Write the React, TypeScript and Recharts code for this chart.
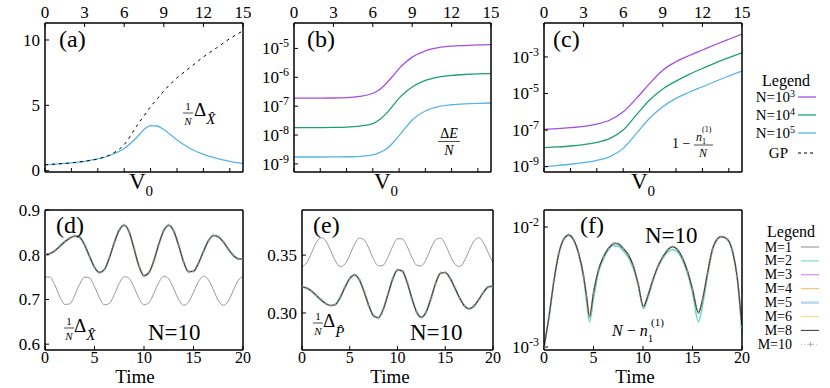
import React from "react";
import { LineChart, Line, XAxis, YAxis } from "recharts";

const FONT = "Liberation Serif, DejaVu Serif, serif";

// ---------- (a) 1/N Delta_X vs V0 ----------
const v0A = [0, 1, 2, 3, 4, 5, 6, 7, 7.5, 8, 8.5, 9, 10, 11, 12, 13, 14, 15];
const dxN1e5 = [0.45, 0.52, 0.6, 0.72, 0.9, 1.2, 1.7, 2.6, 3.15, 3.45, 3.42, 3.15, 2.35, 1.7, 1.25, 0.95, 0.72, 0.55];
const dxGP = [0.45, 0.52, 0.6, 0.72, 0.9, 1.25, 2.0, 3.5, 4.2, 4.9, 5.5, 6.1, 7.1, 7.9, 8.7, 9.4, 10.1, 10.7];

// ---------- (b) Delta E / N vs V0 ----------
const v0B = [0, 1, 2, 3, 4, 5, 6, 6.5, 7, 7.5, 8, 8.5, 9, 10, 11, 12, 13, 14, 15];
const deN1e3 = [1.91e-7, 1.91e-7, 1.91e-7, 1.92e-7, 1.97e-7, 2.18e-7, 2.8e-7, 3.7e-7, 6.0e-7, 1.07e-6, 2.0e-6, 3.3e-6, 5.0e-6, 8.3e-6, 1.07e-5, 1.2e-5, 1.26e-5, 1.32e-5, 1.35e-5];
const deN1e4 = [1.82e-8, 1.82e-8, 1.82e-8, 1.83e-8, 1.88e-8, 2.05e-8, 2.5e-8, 3.4e-8, 5.4e-8, 1.0e-7, 1.9e-7, 3.1e-7, 4.6e-7, 7.8e-7, 1.02e-6, 1.16e-6, 1.25e-6, 1.31e-6, 1.35e-6];
const deN1e5 = [1.74e-9, 1.74e-9, 1.74e-9, 1.75e-9, 1.77e-9, 1.84e-9, 2.05e-9, 2.45e-9, 3.2e-9, 5.2e-9, 9.5e-9, 1.8e-8, 3.3e-8, 6.8e-8, 9.6e-8, 1.12e-7, 1.21e-7, 1.26e-7, 1.29e-7];

// ---------- (c) 1 - n1/N vs V0 ----------
const v0C = [0, 1, 2, 3, 4, 5, 6, 7, 8, 9, 10, 11, 12, 13, 14, 15];
const depN1e3 = [1.1e-7, 1.2e-7, 1.35e-7, 1.58e-7, 2.14e-7, 3.55e-7, 1.0e-6, 5.4e-6, 3.5e-5, 1.9e-4, 5.5e-4, 1.2e-3, 2.4e-3, 4.8e-3, 9.3e-3, 1.78e-2];
const depN1e4 = [1.1e-8, 1.2e-8, 1.35e-8, 1.62e-8, 2.14e-8, 3.55e-8, 1.02e-7, 6.8e-7, 4.4e-6, 1.78e-5, 4.8e-5, 1.12e-4, 2.34e-4, 4.8e-4, 9.1e-4, 1.7e-3];
const depN1e5 = [1.0e-9, 1.15e-9, 1.35e-9, 1.66e-9, 2.2e-9, 3.55e-9, 1.0e-8, 6.6e-8, 4.4e-7, 1.9e-6, 5.4e-6, 1.17e-5, 2.34e-5, 4.7e-5, 9.1e-5, 1.7e-4];

// ---------- (d), (e) time evolution, N=10 ----------
const time = [0, 0.5, 1, 1.5, 2, 2.5, 3, 3.5, 4, 4.5, 5, 5.5, 6, 6.5, 7, 7.5, 8, 8.5, 9, 9.5, 10, 10.5, 11, 11.5, 12, 12.5, 13, 13.5, 14, 14.5, 15, 15.5, 16, 16.5, 17, 17.5, 18, 18.5, 19, 19.5, 20];
const dxM1 = [0.75, 0.75, 0.732, 0.706, 0.689, 0.69, 0.709, 0.734, 0.75, 0.748, 0.729, 0.704, 0.688, 0.691, 0.711, 0.736, 0.751, 0.747, 0.727, 0.702, 0.688, 0.693, 0.714, 0.738, 0.752, 0.746, 0.724, 0.7, 0.687, 0.694, 0.716, 0.74, 0.752, 0.744, 0.722, 0.698, 0.687, 0.696, 0.719, 0.742, 0.752];
const dxConv = [0.8, 0.8025, 0.809, 0.819, 0.829, 0.837, 0.842, 0.839, 0.822, 0.796, 0.772, 0.76, 0.767, 0.793, 0.827, 0.855, 0.866, 0.851, 0.813, 0.774, 0.753, 0.76, 0.787, 0.824, 0.854, 0.866, 0.853, 0.821, 0.784, 0.762, 0.763, 0.781, 0.807, 0.831, 0.843, 0.84, 0.829, 0.813, 0.799, 0.791, 0.79];
const dpM1 = [0.34, 0.3435, 0.352, 0.3608, 0.365, 0.3621, 0.3539, 0.345, 0.3401, 0.3423, 0.3501, 0.3593, 0.3647, 0.3633, 0.3558, 0.3465, 0.3406, 0.3413, 0.3483, 0.3576, 0.3641, 0.3641, 0.3576, 0.3483, 0.3413, 0.3406, 0.3465, 0.3558, 0.3633, 0.3647, 0.3593, 0.3501, 0.3423, 0.3401, 0.3449, 0.3539, 0.3621, 0.365, 0.3608, 0.352, 0.3435];
const dpConv = [0.3225, 0.3215, 0.3189, 0.3151, 0.3112, 0.3081, 0.3064, 0.3073, 0.3134, 0.3222, 0.3298, 0.3328, 0.3288, 0.3185, 0.3063, 0.2975, 0.2959, 0.303, 0.316, 0.3294, 0.3372, 0.3363, 0.3267, 0.3128, 0.3009, 0.2962, 0.3008, 0.3125, 0.3258, 0.3344, 0.335, 0.3301, 0.3219, 0.313, 0.3062, 0.3037, 0.3059, 0.3115, 0.3179, 0.3224, 0.3231];

// ---------- (f) N - n1 ----------
const timeF = [0, 0.5, 1, 1.5, 2, 2.5, 3, 3.5, 4, 4.3, 4.6, 5, 5.5, 6, 6.5, 7, 7.2, 7.5, 8, 8.5, 9, 9.5, 10.05, 10.5, 11, 11.5, 12, 12.5, 13, 13.5, 14, 14.5, 15, 15.6, 16, 16.5, 17, 17.5, 17.9, 18.5, 19, 19.5, 20];
const depConv = [0.001, 0.00178, 0.00355, 0.00603, 0.00794, 0.00857, 0.0078, 0.00603, 0.00389, 0.00263, 0.00179, 0.00282, 0.00437, 0.00562, 0.00661, 0.00724, 0.00731, 0.00724, 0.00661, 0.00589, 0.00479, 0.00339, 0.00217, 0.00269, 0.00363, 0.00468, 0.00562, 0.00646, 0.00686, 0.00646, 0.0055, 0.00427, 0.00302, 0.00193, 0.00245, 0.00407, 0.00646, 0.00794, 0.00832, 0.00794, 0.00646, 0.00389, 0.00148];
const depM2 = [0.001, 0.00178, 0.00355, 0.00603, 0.00794, 0.00857, 0.0078, 0.00589, 0.00372, 0.0024, 0.00162, 0.00251, 0.00417, 0.00537, 0.00646, 0.007, 0.00695, 0.00692, 0.00631, 0.00562, 0.00457, 0.00331, 0.00209, 0.00257, 0.00355, 0.00457, 0.0055, 0.00617, 0.00646, 0.00617, 0.00525, 0.00407, 0.00282, 0.00162, 0.00219, 0.0038, 0.00631, 0.00794, 0.00832, 0.00794, 0.00646, 0.00389, 0.00126];

const tableA = v0A.map((x, i) => ({ x, n5: dxN1e5[i], gp: dxGP[i] }));
const tableB = v0B.map((x, i) => ({ x, n3: deN1e3[i], n4: deN1e4[i], n5: deN1e5[i] }));
const tableC = v0C.map((x, i) => ({ x, n3: depN1e3[i], n4: depN1e4[i], n5: depN1e5[i] }));
const tableD = time.map((x, i) => ({ x, m1: dxM1[i], conv: dxConv[i] }));
const tableE = time.map((x, i) => ({ x, m1: dpM1[i], conv: dpConv[i] }));
const tableF = timeF.map((x, i) => ({ x, m2: depM2[i], conv: depConv[i] }));

const C3 = "#a44ee0";
const C4 = "#1f9e77";
const C5 = "#56b4e9";
const M_COLORS = { m1: "#8c8c8c", m2: "#5fd9c4", m3: "#cc77ee", m4: "#f5b95a", m5: "#b8d8ee", m6: "#f0e080", m8: "#333333", m10: "#a0a0a0" };

const PAD = { l: 52, r: 8, t: 22, b: 26 };
const AX = { stroke: "#000", strokeWidth: 1.5 };
const TL = { stroke: "#000", strokeWidth: 1 };

const boxA = { x: 45, y: 23, w: 198, h: 149 };
const boxB = { x: 294, y: 23, w: 197, h: 149 };
const boxC = { x: 544, y: 23, w: 198, h: 149 };
const boxD = { x: 45, y: 210, w: 198, h: 140 };
const boxE = { x: 302, y: 210, w: 191, h: 140 };
const boxF = { x: 544, y: 210, w: 198, h: 140 };

const txtStyle = { fontFamily: FONT };

const topTick = (p: any) => (
  <text x={p.x} y={p.y} textAnchor="middle" fontSize={17} style={txtStyle} fill="#000">{p.payload.value}</text>
);
const bottomTick = (p: any) => (
  <text x={p.x} y={p.y} dy="0.7em" textAnchor="middle" fontSize={16} style={txtStyle} fill="#000">{p.payload.value}</text>
);
const leftNum = (digits: number) => (p: any) => (
  <text x={p.x} y={p.y} dy="0.34em" textAnchor="end" fontSize={17} style={txtStyle} fill="#000">
    {Number(p.payload.value).toFixed(digits)}
  </text>
);
const leftExp = (p: any) => (
  <text x={p.x} y={p.y} dy="0.34em" textAnchor="end" fontSize={17} style={txtStyle} fill="#000">
    <tspan>10</tspan>
    <tspan dy={-7} fontSize={12}>{Math.round(Math.log10(p.payload.value))}</tspan>
  </text>
);
const noTick = () => <g />;

const plus = (p: any) => {
  if (p.cx == null || p.cy == null) return <g key={p.index} />;
  return <path key={p.index} d={`M${p.cx - 1.8},${p.cy}h3.6M${p.cx},${p.cy - 1.8}v3.6`} stroke={M_COLORS.m10} strokeWidth={0.6} fill="none" />;
};

function Panel({ box, data, children }: any) {
  return (
    <div style={{ position: "absolute", left: box.x - PAD.l, top: box.y - PAD.t }}>
      <LineChart width={box.w + PAD.l + PAD.r} height={box.h + PAD.t + PAD.b} data={data} margin={{ top: 0, right: 0, bottom: 0, left: 0 }}>
        {children}
      </LineChart>
    </div>
  );
}

// axes of the upper row: V0 labelled on top, bare ticks every 2 at the bottom
function upperAxes(yDomain: number[], yTicks: number[], log: boolean, yTick: any) {
  return [
    <XAxis key="xt" xAxisId="t" orientation="top" type="number" dataKey="x" domain={[0, 15]} ticks={[0, 3, 6, 9, 12, 15]} interval={0}
      allowDataOverflow height={PAD.t} axisLine={AX} tickLine={TL} tickSize={-4} tickMargin={9} tick={topTick} />,
    <XAxis key="xb" xAxisId="b" orientation="bottom" type="number" dataKey="x" domain={[0, 15]} ticks={[0, 2, 4, 6, 8, 10, 12, 14]} interval={0}
      allowDataOverflow height={PAD.b} axisLine={AX} tickLine={TL} tickSize={-4} tickMargin={8} tick={noTick} />,
    <YAxis key="yl" yAxisId="l" type="number" scale={log ? "log" : "auto"} domain={yDomain} ticks={yTicks} interval={0}
      allowDataOverflow width={PAD.l} axisLine={AX} tickLine={TL} tickSize={-4} tickMargin={9} tick={yTick} />,
    <YAxis key="yr" yAxisId="r" orientation="right" type="number" domain={[0, 1]} width={PAD.r} axisLine={AX} tickLine={false} tick={false} />,
  ];
}

// axes of the lower row: Time labelled at the bottom
function lowerAxes(yDomain: number[], yTicks: number[], log: boolean, yTick: any) {
  return [
    <XAxis key="xt" xAxisId="t" orientation="top" type="number" dataKey="x" domain={[0, 20]} height={PAD.t} axisLine={AX} tickLine={false} tick={false} />,
    <XAxis key="xb" xAxisId="b" orientation="bottom" type="number" dataKey="x" domain={[0, 20]} ticks={[0, 5, 10, 15, 20]} interval={0}
      allowDataOverflow height={PAD.b} axisLine={AX} tickLine={TL} tickSize={-4} tickMargin={6} tick={bottomTick} />,
    <YAxis key="yl" yAxisId="l" type="number" scale={log ? "log" : "auto"} domain={yDomain} ticks={yTicks} interval={0}
      allowDataOverflow width={PAD.l} axisLine={AX} tickLine={TL} tickSize={-4} tickMargin={9} tick={yTick} />,
    <YAxis key="yr" yAxisId="r" orientation="right" type="number" domain={[0, 1]} width={PAD.r} axisLine={AX} tickLine={false} tick={false} />,
  ];
}

function series(xId: string, key: string, color: string, width = 1.3, extra: any = {}) {
  return (
    <Line key={key + color + width} xAxisId={xId} yAxisId="l" type="monotone" dataKey={key} stroke={color} strokeWidth={width}
      dot={false} activeDot={false} isAnimationActive={false} {...extra} />
  );
}

// the M = 2 ... 10 curves lie on top of each other
function converged(keyM2: string, keyRest: string) {
  return [
    series("b", keyRest, M_COLORS.m5, 2),
    series("b", keyM2, M_COLORS.m2, 1.4),
    series("b", keyRest, M_COLORS.m3, 1),
    series("b", keyRest, M_COLORS.m4, 1),
    series("b", keyRest, M_COLORS.m6, 1),
    series("b", keyRest, M_COLORS.m8, 1.1),
    series("b", keyRest, M_COLORS.m10, 0.5, { strokeDasharray: "1 2", dot: plus }),
  ];
}

const Txt = (props: any) => <text fill="#000" style={txtStyle} {...props} />;

function Frac({ cx, yTop, yBar, yBot, w, top, bot, size = 12 }: any) {
  return (
    <g>
      <Txt x={cx} y={yTop} fontSize={size} textAnchor="middle">{top}</Txt>
      <line x1={cx - w / 2} x2={cx + w / 2} y1={yBar} y2={yBar} stroke="#000" strokeWidth={0.7} />
      <Txt x={cx} y={yBot} fontSize={size} textAnchor="middle" fontStyle="italic">{bot}</Txt>
    </g>
  );
}

function Overlay() {
  const topLegend = [
    { label: "3", color: C3, y: 97 },
    { label: "4", color: C4, y: 115 },
    { label: "5", color: C5, y: 133 },
  ];
  const mLegend = [
    { label: "M=1", color: M_COLORS.m1, w: 1 },
    { label: "M=2", color: M_COLORS.m2, w: 1 },
    { label: "M=3", color: M_COLORS.m3, w: 1 },
    { label: "M=4", color: M_COLORS.m4, w: 1 },
    { label: "M=5", color: M_COLORS.m5, w: 2.5 },
    { label: "M=6", color: M_COLORS.m6, w: 1 },
    { label: "M=8", color: M_COLORS.m8, w: 1 },
    { label: "M=10", color: M_COLORS.m10, w: 0.7 },
  ];
  return (
    <svg width={830} height={388} style={{ position: "absolute", left: 0, top: 0, pointerEvents: "none" }}>
      {/* panel letters */}
      <Txt x={59} y={47} fontSize={24}>(a)</Txt>
      <Txt x={307} y={47} fontSize={24}>(b)</Txt>
      <Txt x={553} y={47} fontSize={24}>(c)</Txt>
      <Txt x={56} y={233} fontSize={24}>(d)</Txt>
      <Txt x={313} y={233} fontSize={24}>(e)</Txt>
      <Txt x={580} y={233} fontSize={24}>(f)</Txt>

      {/* axis titles */}
      {[141, 386, 643].map((cx) => (
        <Txt key={cx} x={cx} y={189} fontSize={23} textAnchor="middle">
          <tspan>V</tspan>
          <tspan dy={7} fontSize={15}>0</tspan>
        </Txt>
      ))}
      {[135, 390, 635].map((cx) => (
        <Txt key={cx} x={cx} y={383} fontSize={19} textAnchor="middle">Time</Txt>
      ))}

      {/* (a) */}
      <Frac cx={188} yTop={110} yBar={113} yBot={125} w={10} top="1" bot="N" size={11} />
      <Txt x={194} y={116} fontSize={19}>
        <tspan>Δ</tspan>
        <tspan dy={8} fontSize={15} fontStyle="italic">X̂</tspan>
      </Txt>

      {/* (b) */}
      <Frac cx={449} yTop={138} yBar={141.5} yBot={155} w={22} top={<><tspan>Δ</tspan><tspan fontStyle="italic">E</tspan></>} bot="N" size={14} />

      {/* (c) */}
      <Txt x={672} y={148} fontSize={14}>1 −</Txt>
      <Txt x={696} y={141} fontSize={12}>
        <tspan fontStyle="italic">n</tspan>
        <tspan dy={3} fontSize={8}>1</tspan>
        <tspan x={702} dy={-12} fontSize={8}>(1)</tspan>
      </Txt>
      <line x1={694} x2={713} y1={145} y2={145} stroke="#000" strokeWidth={0.7} />
      <Txt x={703} y={157} fontSize={12} fontStyle="italic" textAnchor="middle">N</Txt>

      {/* (d) */}
      <Frac cx={69} yTop={325} yBar={328} yBot={340} w={10} top="1" bot="N" size={11} />
      <Txt x={74} y={332} fontSize={19}>
        <tspan>Δ</tspan>
        <tspan dy={8} fontSize={15} fontStyle="italic">X̂</tspan>
      </Txt>
      <Txt x={148} y={340} fontSize={23}>N=10</Txt>

      {/* (e) */}
      <Frac cx={318} yTop={320} yBar={323} yBot={335} w={10} top="1" bot="N" size={11} />
      <Txt x={323} y={327} fontSize={19}>
        <tspan>Δ</tspan>
        <tspan dy={10} fontSize={15} fontStyle="italic">P̂</tspan>
      </Txt>
      <Txt x={410} y={340} fontSize={23}>N=10</Txt>

      {/* (f) */}
      <Txt x={645} y={243} fontSize={23}>N=10</Txt>
      <Txt x={612} y={336} fontSize={16}>
        <tspan fontStyle="italic">N</tspan>
        <tspan> − </tspan>
        <tspan fontStyle="italic">n</tspan>
        <tspan dy={6} fontSize={11}>1</tspan>
        <tspan x={651} dy={-16} fontSize={11}>(1)</tspan>
      </Txt>

      {/* legend, upper row */}
      <Txt x={786} y={86} fontSize={16} textAnchor="middle">Legend</Txt>
      {topLegend.map((e) => (
        <g key={e.label}>
          <Txt x={795} y={e.y + 5} fontSize={15} textAnchor="end">
            <tspan>N=10</tspan>
            <tspan dy={-5} fontSize={10}>{e.label}</tspan>
          </Txt>
          <line x1={798} x2={816} y1={e.y} y2={e.y} stroke={e.color} strokeWidth={1.3} />
        </g>
      ))}
      <Txt x={788} y={158} fontSize={15} textAnchor="end">GP</Txt>
      <line x1={798} x2={816} y1={153} y2={153} stroke="#000" strokeWidth={1} strokeDasharray="3 3" />

      {/* legend, lower row */}
      <Txt x={791} y={237} fontSize={16} textAnchor="middle">Legend</Txt>
      {mLegend.map((e, i) => {
        const y = 247 + i * 13.9;
        return (
          <g key={e.label}>
            <Txt x={792} y={y + 4.5} fontSize={14} textAnchor="end">{e.label}</Txt>
            <line x1={801} x2={819} y1={y} y2={y} stroke={e.color} strokeWidth={e.w} strokeDasharray={e.label === "M=10" ? "1 2" : undefined} />
            {e.label === "M=10" && <path d={`M${808},${y}h5M${810.5},${y - 2.5}v5`} stroke={e.color} strokeWidth={0.8} />}
          </g>
        );
      })}
    </svg>
  );
}

export default function App() {
  return (
    <div style={{ position: "absolute", left: 0, top: 0, width: 830, height: 388, background: "#fff", overflow: "hidden", fontFamily: FONT }}>
      <Panel box={boxA} data={tableA}>
        {upperAxes([-0.1, 11.3], [0, 5, 10], false, leftNum(0))}
        {series("t", "n5", C5, 1.3)}
        {series("t", "gp", "#000", 1, { strokeDasharray: "3 4" })}
      </Panel>

      <Panel box={boxB} data={tableB}>
        {upperAxes([5.25e-10, 7.6e-5], [1e-9, 1e-8, 1e-7, 1e-6, 1e-5], true, leftExp)}
        {series("t", "n3", C3)}
        {series("t", "n4", C4)}
        {series("t", "n5", C5)}
      </Panel>

      <Panel box={boxC} data={tableC}>
        {upperAxes([5.1e-10, 7.2e-2], [1e-9, 1e-7, 1e-5, 1e-3], true, leftExp)}
        {series("t", "n3", C3)}
        {series("t", "n4", C4)}
        {series("t", "n5", C5)}
      </Panel>

      <Panel box={boxD} data={tableD}>
        {lowerAxes([0.587, 0.9], [0.6, 0.7, 0.8, 0.9], false, leftNum(1))}
        {series("b", "m1", M_COLORS.m1, 0.9)}
        {converged("conv", "conv")}
      </Panel>

      <Panel box={boxE} data={tableE}>
        {lowerAxes([0.268, 0.389], [0.3, 0.35], false, leftNum(2))}
        {series("b", "m1", M_COLORS.m1, 0.9)}
        {converged("conv", "conv")}
      </Panel>

      <Panel box={boxF} data={tableF}>
        {lowerAxes([9.44e-4, 1.387e-2], [1e-3, 1e-2], true, leftExp)}
        {converged("m2", "conv")}
      </Panel>

      <Overlay />
    </div>
  );
}
